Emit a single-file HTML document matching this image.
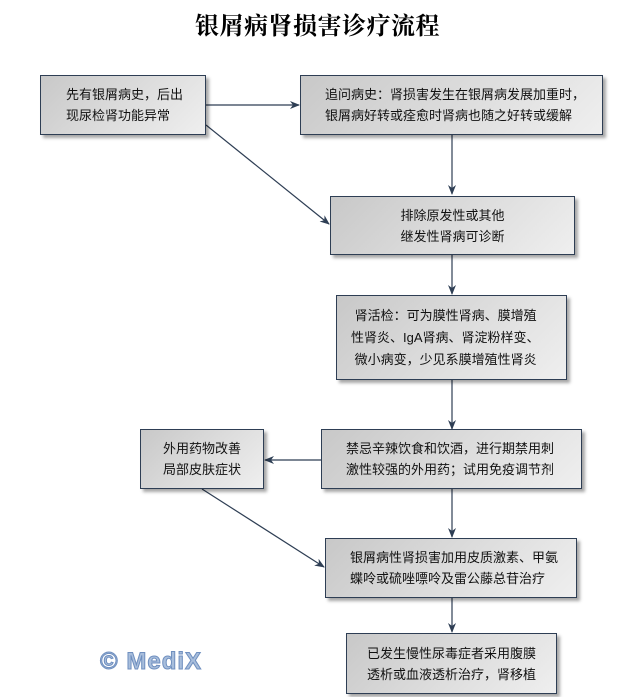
<!DOCTYPE html>
<html><head><meta charset="utf-8"><style>
body{margin:0;width:642px;height:697px;background:#fff;position:relative;overflow:hidden;font-family:"Liberation Sans","Noto Sans CJK SC",sans-serif;}
.t{position:absolute;left:195px;top:6px;font-family:"Liberation Serif","Noto Serif CJK SC",serif;font-weight:bold;font-size:24px;letter-spacing:0.5px;color:#000;}
.b{position:absolute;box-sizing:border-box;border:1px solid #2e3e54;background:linear-gradient(135deg,#c8c8c8 0%,#dcdcdc 50%,#efefef 100%);box-shadow:3px 3px 3px rgba(0,0,0,0.35);display:flex;align-items:center;font-size:13px;line-height:21px;color:#111;}
.b div{width:100%;}
.c{text-align:center;}
.mx{position:absolute;left:100px;top:648px;font-family:"Liberation Sans",sans-serif;font-weight:bold;font-size:24px;color:#a8bedc;-webkit-text-stroke:1px #6f8fbf;letter-spacing:1px;}
</style></head><body>
<div class="t">银屑病肾损害诊疗流程</div>
<svg width="642" height="697" style="position:absolute;left:0;top:0">
<defs><marker id="a" markerWidth="10" markerHeight="8" refX="9" refY="4" orient="auto" markerUnits="userSpaceOnUse"><path d="M0,0 L10,4 L0,8 L3,4z" fill="#2e3e54"/></marker></defs>
<g stroke="#2e3e54" stroke-width="1.2" fill="none">
<line x1="206" y1="105" x2="299" y2="105" marker-end="url(#a)"/>
<line x1="206" y1="125" x2="329" y2="224" marker-end="url(#a)"/>
<line x1="452" y1="135" x2="452" y2="194" marker-end="url(#a)"/>
<line x1="452" y1="255" x2="452" y2="294" marker-end="url(#a)"/>
<line x1="452" y1="380" x2="452" y2="429" marker-end="url(#a)"/>
<line x1="321" y1="460" x2="265" y2="460" marker-end="url(#a)"/>
<line x1="452" y1="489" x2="452" y2="537" marker-end="url(#a)"/>
<line x1="202" y1="489" x2="324" y2="567" marker-end="url(#a)"/>
<line x1="452" y1="598" x2="452" y2="632" marker-end="url(#a)"/>
</g></svg>
<div class="b" style="left:40px;top:75px;width:166px;height:60px"><div style="padding-left:25px">先有银屑病史，后出<br>现尿检肾功能异常</div></div>
<div class="b" style="left:300px;top:75px;width:303px;height:60px"><div style="padding-left:24px">追问病史：肾损害发生在银屑病发展加重时，<br>银屑病好转或痊愈时肾病也随之好转或缓解</div></div>
<div class="b" style="left:330px;top:196px;width:245px;height:59px"><div class="c">排除原发性或其他<br>继发性肾病可诊断</div></div>
<div class="b" style="left:336px;top:295px;width:231px;height:85px"><div style="padding-left:14px;line-height:22px">&nbsp;肾活检：可为膜性肾病、膜增殖<br>性肾炎、IgA肾病、肾淀粉样变、<br>&nbsp;微小病变，少见系膜增殖性肾炎</div></div>
<div class="b" style="left:140px;top:429px;width:124px;height:60px"><div class="c">外用药物改善<br>局部皮肤症状</div></div>
<div class="b" style="left:321px;top:429px;width:261px;height:60px"><div style="padding-left:24px">禁忌辛辣饮食和饮酒，进行期禁用刺<br>激性较强的外用药；试用免疫调节剂</div></div>
<div class="b" style="left:325px;top:538px;width:252px;height:60px"><div style="padding-left:24px">银屑病性肾损害加用皮质激素、甲氨<br>蝶呤或硫唑嘌呤及雷公藤总苷治疗</div></div>
<div class="b" style="left:346px;top:633px;width:211px;height:61px"><div class="c">已发生慢性尿毒症者采用腹膜<br>透析或血液透析治疗，肾移植</div></div>
<div class="mx">© MediX</div>
</body></html>
